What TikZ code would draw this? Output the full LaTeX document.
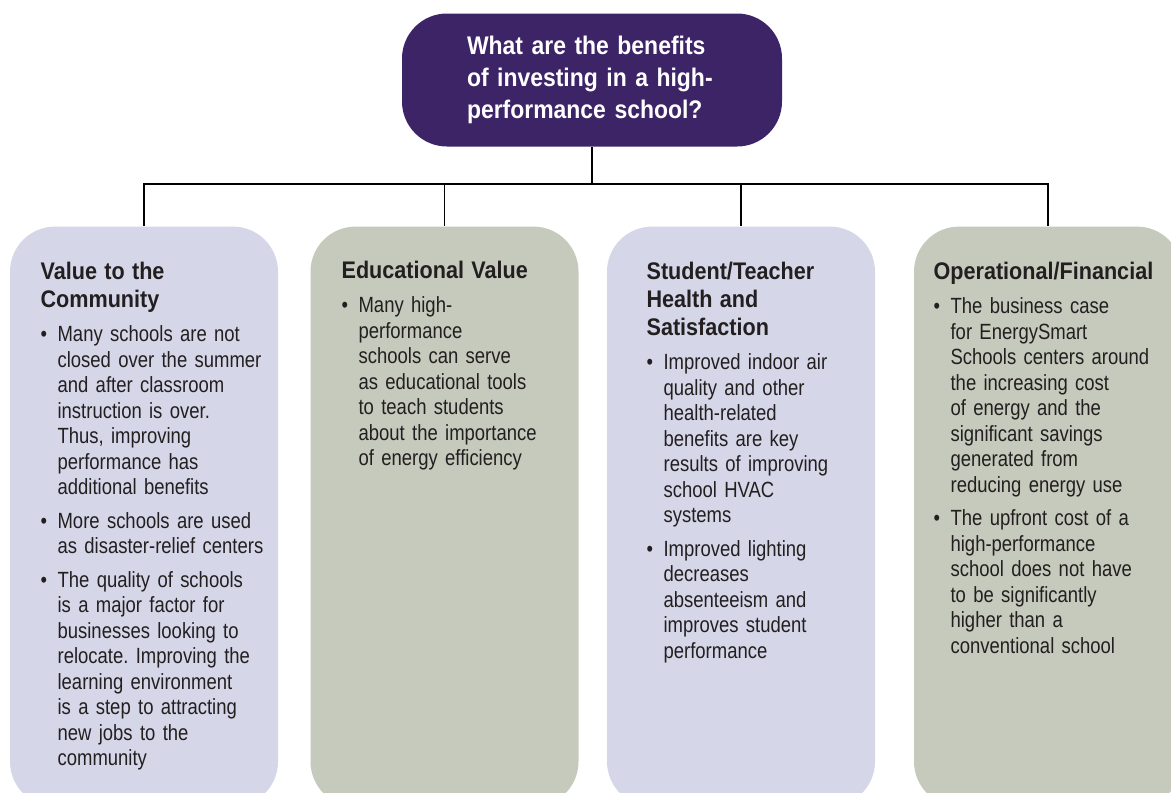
\documentclass[tikz,border=0pt]{standalone}
\usepackage{fontspec}
\setmainfont[FakeStretch=0.84, BoldFeatures={FakeStretch=0.9}]{Liberation Sans}
\usetikzlibrary{positioning}
\frenchspacing

\definecolor{qpurple}{HTML}{3C2467}
\definecolor{lavbox}{HTML}{D5D7E9}
\definecolor{sagebox}{HTML}{C5CABC}
\definecolor{ink}{HTML}{231F20}

% bullet item: body lines sit on \leftskip, the dot hangs out to the left
\newcommand{\bul}{\par\vskip8pt\noindent\hskip-17pt\makebox[17pt][l]{\textbullet}}
\newcommand{\colhead}[1]{{\leftskip=0pt\fontsize{24}{28}\selectfont\bfseries #1\par}\vskip1pt}

\begin{document}
\begin{tikzpicture}[x = 1pt, y = -1pt, % pixel units, y downwards
                line width = 1.2pt % connector style
            ]

            \useasboundingbox (0,0) rectangle (1171,793);
            \clip (0,0) rectangle (1171,793);

            \tikzstyle{column}=[rounded corners = 45pt, minimum width = 268pt,
            minimum height = 580pt, anchor = north, inner sep = 0pt]
            \tikzstyle{coltext}=[anchor = base west, inner sep = 0pt, text width = 255pt,
            align = left, text = ink, font = \fontsize{22}{25.5}\selectfont]

            % question box
            \node (q) [fill = qpurple, rounded corners = 45pt, minimum width = 380pt,
            minimum height = 133pt, text width = 250pt, align = left, text = white,
            font = \fontsize{25.5}{32}\selectfont\bfseries] at (592,80)
            {What are the benefits\\of investing in a high-\\performance school?};

            % the four columns
            \node (box1) [column, fill = lavbox] at (144,226) {};
            \node (box2) [column, fill = sagebox] at (444.5,226) {};
            \node (box3) [column, fill = lavbox] at (741,226) {};
            \node (box4) [column, fill = sagebox] at (1048,226) {};

            \coordinate (hub) at (592,184);

            \draw (q.south) -- (hub); \draw (box1.north) |- (hub) -| (box4.north);
            \draw (box2.north) -- (box2.north |- hub); \draw (box3.north) --
            (box3.north |- hub);

            \node (txt1) [coltext] at (40,279) {\leftskip=17pt\parskip=0pt
                \colhead{Value to the\\Community}
                \bul Many schools are not\\closed over the summer\\and after classroom\\instruction is over.\\Thus, improving\\performance has\\additional benefits
                \bul More schools are used\\as disaster-relief centers
                \bul The quality of schools\\is a major factor for\\businesses looking to\\relocate. Improving the\\learning environment\\is a step to attracting\\new jobs to the\\community\par};

            \node (txt2) [coltext] at (341,278) {\leftskip=17pt\parskip=0pt
                \colhead{Educational Value}
                \bul Many high-\\performance\\schools can serve\\as educational tools\\to teach students\\about the importance\\of energy efficiency\par};

            \node (txt3) [coltext] at (646,279) {\leftskip=17pt\parskip=0pt
                \colhead{Student/Teacher\\Health and\\Satisfaction}
                \bul Improved indoor air\\quality and other\\health-related\\benefits are key\\results of improving\\school HVAC\\systems
                \bul Improved lighting\\decreases\\absenteeism and\\improves student\\performance\par};

            \node (txt4) [coltext] at (933,279) {\leftskip=17pt\parskip=0pt
                \colhead{Operational/Financial}
                \bul The business case\\for EnergySmart\\Schools centers around\\the increasing cost\\of energy and the\\significant savings\\generated from\\reducing energy use
                \bul The upfront cost of a\\high-performance\\school does not have\\to be significantly\\higher than a\\conventional school\par};
        \end{tikzpicture}
\end{document}
